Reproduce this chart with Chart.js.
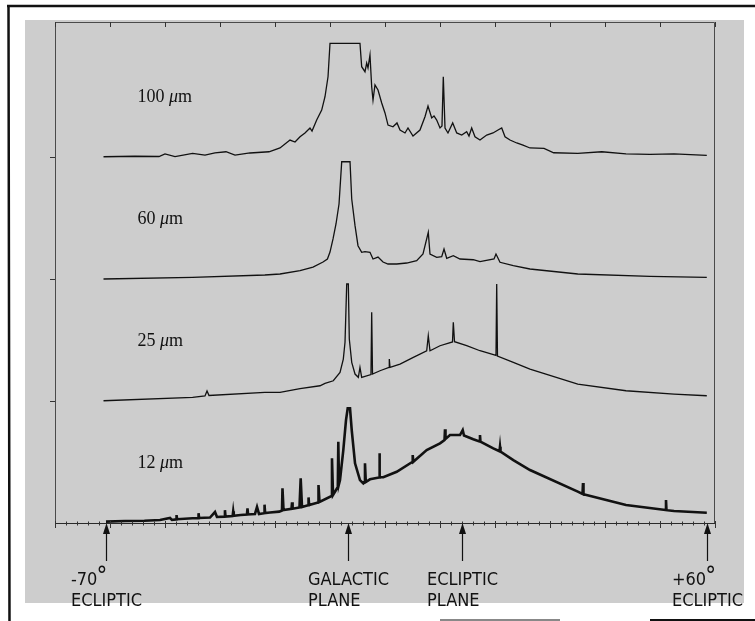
<!DOCTYPE html>
<html><head><meta charset="utf-8">
<script src="https://cdn.jsdelivr.net/npm/chart.js@4.4.1/dist/chart.umd.min.js"></script>
<style>html,body{margin:0;padding:0;background:#fff}#wrap{width:755px;height:621px;position:relative}</style>
</head><body><div id="wrap"><canvas id="c"></canvas></div>
<script>
// ---- data (scan position in arbitrary units 0..120, signal in relative units above each trace baseline)
const bandNames = ['100 μm', '60 μm', '25 μm', '12 μm'];
const traceOffsets = [300, 200, 100, 0];
const yTicks = [100, 200, 300];
const xMajorStep = 10;
const xMinorStep = 2;
const markerPos = [9.27, 53.27, 74.0, 118.55];
const markerLabels = [['-70°', 'ECLIPTIC'], ['GALACTIC', 'PLANE'], ['ECLIPTIC', 'PLANE'], ['+60°', 'ECLIPTIC']];

const scan100 = [[8.82,0.2],[14.5,0.6],[18.91,0.4],[20,2.5],[21.82,0.4],[25.02,3.0],[27.27,1.6],[29.09,3.3],[31.09,4.3],[32.73,1.6],[35.45,3.3],[38.91,4.3],[40.91,7.4],[42.73,13.9],[43.64,12.3],[44.55,16.6],[45.45,19.7],[46.36,23.8],[46.73,21.3],[47.58,30.3],[48.49,38.5],[49.09,49.4],[49.64,65.8],[50,93.2],[55.45,93.2],[55.76,74.0],[56.36,69.9],[56.67,77.0],[56.91,73.0],[57.27,83.6],[57.58,57.6],[57.82,46.7],[58.18,59.0],[58.73,54.9],[59.4,44.3],[60,36.1],[60.55,26.2],[61.45,24.8],[62.18,27.9],[62.73,22.1],[63.64,19.7],[64.18,23.8],[65.09,17.2],[66.36,22.1],[67.27,33.0],[67.82,41.8],[68.49,32.0],[68.91,33.6],[69.4,30.3],[70,23.8],[70.36,25.4],[70.6,65.8],[70.91,23.8],[71.45,19.7],[72.31,27.9],[73.04,19.7],[73.95,18.0],[74.85,20.7],[75.27,17.2],[75.76,23.8],[76.36,16.6],[77.27,13.9],[78.49,18.0],[79.64,19.7],[80.55,22.1],[81.22,23.8],[81.82,16.6],[82.73,13.9],[83.95,11.5],[85.09,9.8],[86.36,7.4],[88.91,7.1],[90.67,3.5],[95.05,3.0],[99.42,4.3],[103.82,2.5],[108.18,2.2],[112.55,2.5],[118.51,1.4]];

const scan60 = [[8.82,0],[25.02,1.4],[38.15,3.3],[40.91,4.1],[44.55,6.8],[46.91,9.8],[48.73,13.9],[49.53,16.4],[50,22.1],[50.55,32.8],[51.09,45.1],[51.64,61.5],[52.13,96.1],[53.64,96.1],[53.95,65.6],[54.55,43.7],[55.09,27.3],[55.76,21.9],[56.36,22.4],[57.27,21.9],[57.82,16.4],[58.73,18.0],[59.64,13.9],[60.55,12.3],[62.13,12.3],[63.95,13.1],[65.76,15.0],[66.91,20.5],[67.87,38.3],[68.18,20.5],[69.4,17.8],[70.31,18.3],[70.73,24.6],[71.22,17.0],[72.42,19.1],[73.64,16.4],[76.05,15.8],[77.27,14.2],[79.82,16.4],[80.18,20.5],[80.91,13.7],[83.33,10.9],[86.36,8.2],[95.05,4.1],[108.18,2.2],[118.51,1.4]];

const scan25 = [[8.82,0.2],[25.02,3.0],[27.27,4.1],[27.64,8.2],[28,4.5],[38.15,7.1],[40.91,7.1],[44.55,10.2],[48.18,12.5],[49.09,14.5],[50.6,16.6],[51.82,23.5],[52.42,34.4],[52.73,48.1],[53.04,95.9],[53.33,95.9],[53.51,50.8],[53.95,31.7],[54.55,22.1],[55.15,19.4],[55.45,27.6],[55.76,19.4],[57.45,21.7],[57.58,72.7],[57.73,22.1],[59.09,24.8],[60.73,27.5],[60.78,34.4],[60.91,27.6],[62.73,30.3],[65.15,35.8],[67.58,41.2],[67.87,53.5],[68.18,41.2],[70,45.3],[72.27,48.4],[72.42,64.5],[72.64,48.6],[74.85,45.3],[77.27,41.2],[80.18,37.3],[80.31,95.9],[80.45,36.9],[83.33,31.7],[86.36,26.2],[95.05,13.9],[103.82,8.4],[112.55,5.7],[118.51,4.3]];

const scan12 = [[9.27,1.1],[12.73,1.6],[16.25,1.9],[19.09,2.5],[20.91,4.1],[21.27,2.5],[22.0,3.0],[22.1,6.5],[22.2,3.1],[25.02,3.9],[26.0,4.0],[26.1,8.0],[26.2,4.1],[28.18,4.5],[29.09,9.0],[29.45,4.9],[30.8,5.2],[30.9,10.5],[31.0,5.3],[32.3,5.8],[32.4,9.6],[32.5,5.9],[33.76,6.6],[34.9,7.0],[35.0,12.0],[35.1,7.0],[36.36,7.4],[36.73,13.1],[37.09,7.4],[38.0,8.0],[38.1,15.0],[38.2,8.1],[39.09,8.6],[40.76,9.3],[41.27,10.2],[41.36,28.4],[41.55,10.7],[43.0,11.6],[43.1,17.0],[43.2,11.7],[44.45,12.7],[44.67,36.6],[44.91,13.1],[46.0,14.5],[46.1,21.0],[46.2,14.7],[47.82,16.8],[47.91,31.1],[48.09,17.2],[50.27,22.1],[50.36,53.0],[50.55,23.0],[51.42,29.5],[51.51,66.6],[51.64,32.0],[51.82,35.2],[52.42,59.8],[52.91,84.4],[53.22,94.0],[53.64,94.0],[53.95,76.2],[54.55,48.9],[55.45,35.2],[56.05,32.5],[56.27,33.6],[56.36,48.9],[56.51,33.6],[57.27,35.8],[58.91,37.3],[58.96,57.1],[59.09,37.5],[59.69,37.5],[62.13,42.0],[64.96,50.0],[65.04,55.7],[65.15,50.2],[67.58,59.8],[70,65.3],[70.82,68.0],[70.91,76.8],[71,68.9],[71.82,72.1],[73.64,72.1],[74.13,76.2],[74.36,71.7],[76.05,68.6],[77.18,66.8],[77.27,72.1],[77.36,66.6],[79.69,61.2],[80.82,58.8],[80.91,62.5],[81,58.5],[83.33,51.6],[86.36,43.4],[95.05,25.7],[95.91,23.8],[96,32.8],[96.09,23.6],[103.82,14.8],[111,10.7],[111.09,18.9],[111.18,10.5],[112.55,9.8],[118.51,8.4]];

const scans = [scan100, scan60, scan25, scan12];

// ---- decoration plugin
const SANS = '"DejaVu Sans Condensed", "Liberation Sans Narrow", "Liberation Sans", sans-serif';
const SERIF = '"Liberation Serif", "DejaVu Serif", serif';

const deco = {
  id: 'deco',
  beforeDraw(chart) {
    const ctx = chart.ctx;
    ctx.save();
    ctx.fillStyle = '#ffffff';
    ctx.fillRect(0, 0, chart.width, chart.height);
    ctx.fillStyle = '#cdcdcd';
    ctx.fillRect(25, 20, 719, 583);
    ctx.strokeStyle = '#111';
    ctx.lineWidth = 2.5;
    ctx.beginPath();
    ctx.moveTo(7, 6); ctx.lineTo(755, 6);
    ctx.moveTo(8.5, 5); ctx.lineTo(9.5, 621);
    ctx.stroke();
    ctx.lineWidth = 2;
    ctx.beginPath(); ctx.moveTo(650, 620); ctx.lineTo(755, 620); ctx.stroke();
    ctx.strokeStyle = '#888';
    ctx.beginPath(); ctx.moveTo(440, 620); ctx.lineTo(560, 620); ctx.stroke();
    ctx.restore();
  },
  afterDatasetsDraw(chart) {
    const ctx = chart.ctx;
    const xs = chart.scales.x, ys = chart.scales.y;
    const a = chart.chartArea;
    ctx.save();
    // frame
    ctx.strokeStyle = '#4a4a4a';
    ctx.lineWidth = 1;
    ctx.beginPath();
    ctx.moveTo(a.left + 0.5, a.bottom); ctx.lineTo(a.left + 0.5, a.top + 0.5);
    ctx.lineTo(a.right - 0.5, a.top + 0.5); ctx.lineTo(a.right - 0.5, a.bottom);
    ctx.stroke();
    // bottom axis
    ctx.strokeStyle = '#2a2a2a';
    ctx.lineWidth = 1.2;
    ctx.beginPath(); ctx.moveTo(a.left, a.bottom + 0.5); ctx.lineTo(a.right, a.bottom + 0.5); ctx.stroke();
    // x ticks
    ctx.lineWidth = 1;
    ctx.strokeStyle = '#333';
    ctx.beginPath();
    for (let v = xs.min; v <= xs.max + 1e-6; v += xMinorStep) {
      const px = Math.round(xs.getPixelForValue(v)) + 0.5;
      const major = Math.abs(v / xMajorStep - Math.round(v / xMajorStep)) < 1e-6;
      if (major) {
        ctx.moveTo(px, a.bottom - 2); ctx.lineTo(px, a.bottom + 5);
        ctx.moveTo(px, a.top); ctx.lineTo(px, a.top + 5);
      } else {
        ctx.moveTo(px, a.bottom - 1.5); ctx.lineTo(px, a.bottom + 2.5);
      }
    }
    // y ticks (outward on left)
    yTicks.forEach(v => {
      const py = Math.round(ys.getPixelForValue(v)) + 0.5;
      ctx.moveTo(a.left - 5, py); ctx.lineTo(a.left, py);
    });
    ctx.stroke();

    // band labels
    ctx.fillStyle = '#111';
    ctx.textBaseline = 'alphabetic';
    bandNames.forEach((name, i) => {
      const px = xs.getPixelForValue(15);
      const py = ys.getPixelForValue(traceOffsets[i] + 45);
      const parts = name.split(' ');
      ctx.font = '18px ' + SERIF;
      ctx.textAlign = 'left';
      let x = px;
      ctx.fillText(parts[0] + ' ', x, py);
      x += ctx.measureText(parts[0] + ' ').width;
      ctx.font = 'italic 18px ' + SERIF;
      ctx.fillText(parts[1][0], x, py);
      x += ctx.measureText(parts[1][0]).width;
      ctx.font = '18px ' + SERIF;
      ctx.fillText(parts[1].slice(1), x, py);
    });

    // markers: arrows + labels
    markerPos.forEach((v, i) => {
      const px = Math.round(xs.getPixelForValue(v)) + 0.5;
      const tip = a.bottom;
      ctx.strokeStyle = '#111';
      ctx.lineWidth = 1.2;
      ctx.beginPath(); ctx.moveTo(px, tip + 6); ctx.lineTo(px, tip + 38); ctx.stroke();
      ctx.fillStyle = '#111';
      ctx.beginPath(); ctx.moveTo(px, tip); ctx.lineTo(px - 3.5, tip + 11); ctx.lineTo(px + 3.5, tip + 11); ctx.closePath(); ctx.fill();

      const lines = markerLabels[i];
      ctx.font = '18px ' + SANS;
      const widths = lines.map(t => ctx.measureText(t.replace('°', '')).width + (t.includes('°') ? 8 : 0));
      const wmax = Math.max(...widths);
      const left = px - wmax / 2;
      ctx.textAlign = 'left';
      lines.forEach((t, j) => {
        const base = tip + 62 + j * 21;
        const hasDeg = t.includes('°');
        const main = t.replace('°', '');
        ctx.font = '18px ' + SANS;
        ctx.fillText(main, left, base);
        if (hasDeg) {
          const w = ctx.measureText(main).width;
          ctx.font = '24px ' + SANS;
          ctx.fillText('°', left + w - 1, base - 1);
        }
      });
    });
    ctx.restore();
  }
};

new Chart(document.getElementById('c'), {
  type: 'line',
  data: {
    datasets: bandNames.map((name, i) => ({
      label: name,
      data: scans[i].map(([x, v]) => ({ x: x, y: v + traceOffsets[i] })),
      borderColor: '#111',
      borderWidth: i === 3 ? 2.6 : 1.3,
      pointRadius: 0,
      tension: 0,
      fill: false
    }))
  },
  options: {
    responsive: true,
    maintainAspectRatio: false,
    animation: false,
    layout: { padding: { left: 55, right: 40, top: 22, bottom: 98 } },
    plugins: { legend: { display: false }, tooltip: { enabled: false } },
    scales: {
      x: { type: 'linear', min: 0, max: 120, display: false },
      y: { type: 'linear', min: 0, max: 410.66, display: false }
    }
  },
  plugins: [deco]
});
</script>
</body></html>
